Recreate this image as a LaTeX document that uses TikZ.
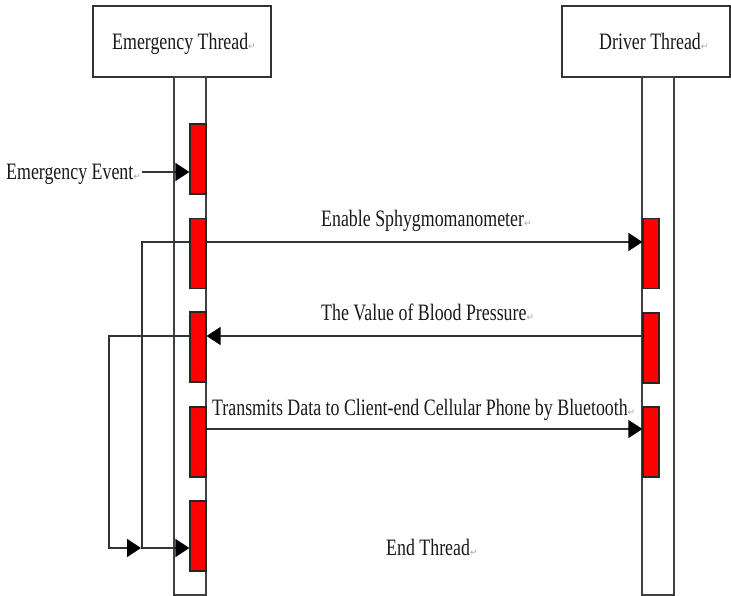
\documentclass[tikz,border=0pt]{standalone}
\usepackage{fontspec}
\setmainfont{Liberation Serif}[FakeStretch=0.76]
\newfontfamily\markfont{DejaVu Sans}
\usetikzlibrary{arrows.meta}

% small grey paragraph mark that trails each label
\newcommand\pmark{{\markfont\color{black!35}\fontsize{9}{9}\selectfont ↵}}

\tikzset{
  threadbox/.style={draw=black!80, line width=1.3pt, fill=white, inner sep=0pt,
    minimum height=71pt},
  lifeline/.style={draw=black!75, line width=1.2pt, fill=white, inner sep=0pt,
    minimum width=32pt, minimum height=518pt},
  actbar/.style={draw=black!85, fill=red, line width=1.2pt, inner sep=0pt,
    minimum width=16pt, minimum height=70pt},
  wire/.style={draw=black!80, line width=1.3pt},
  msg/.style={wire, -{Triangle[length=14pt,width=18pt,color=black]}},
  lbl/.style={inner sep=0pt, text=black!90, font=\fontsize{23.5}{25}\selectfont}
}

\begin{document}
\begin{tikzpicture}[x=1pt, y=-1pt]
  \fill[white] (0,0) rectangle (731,596);
  \useasboundingbox (0,0) rectangle (731,596);

  % thread headers
  \node[threadbox, minimum width=178pt] (emt) at (182,41.5) {};
  \node[threadbox, minimum width=168pt] (drt) at (646,41.5) {};
  \node[lbl, anchor=base west] (emtl) at (112,50) {Emergency Thread\pmark};
  \node[lbl, anchor=base west] (drtl) at (599,50) {Driver Thread\pmark};

  % lifelines
  \node[lifeline] (eline) at (190,336) {};
  \node[lifeline] (dline) at (658,336) {};

  % message rows
  \coordinate (yev) at (0,172);
  \coordinate (yen) at (0,242);
  \coordinate (ybp) at (0,336);
  \coordinate (ytx) at (0,429);
  \coordinate (yend) at (0,548);
  \coordinate (innerx) at (142,0);
  \coordinate (outerx) at (109,0);
  \coordinate (inb) at (innerx |- yend);

  % activation bar positions
  \path (198,159) coordinate (pe1) (198,253.5) coordinate (pe2) (198,347) coordinate (pe3)
        (198,442) coordinate (pe4) (198,536) coordinate (pe5)
        (651,253.5) coordinate (pd1) (651,348) coordinate (pd2) (651,442) coordinate (pd3);
  \path node[actbar, draw=none, fill=none] (e1) at (pe1) {}
        node[actbar, draw=none, fill=none] (e2) at (pe2) {}
        node[actbar, draw=none, fill=none] (e3) at (pe3) {}
        node[actbar, draw=none, fill=none] (e4) at (pe4) {}
        node[actbar, draw=none, fill=none] (e5) at (pe5) {}
        node[actbar, draw=none, fill=none] (d1) at (pd1) {}
        node[actbar, draw=none, fill=none] (d2) at (pd2) {}
        node[actbar, draw=none, fill=none] (d3) at (pd3) {};

  % labels
  \node[lbl, anchor=base west] (ev) at (6,180) {Emergency Event\pmark};
  \node[lbl, anchor=base west] (len) at (321,226) {Enable Sphygmomanometer\pmark};
  \node[lbl, anchor=base west] (lbp) at (321,320) {The Value of Blood Pressure\pmark};
  \node[lbl, anchor=base west] (ltx) at (212,415) {Transmits Data to Client-end Cellular Phone by Bluetooth\pmark};
  \node[lbl, anchor=base west] (lend) at (386,555) {End Thread\pmark};

  % messages
  \draw[msg] ([xshift=1pt]ev.east |- yev) -- (e1.west |- yev);
  \draw[msg] (e2.east |- yen) -- (d1.west |- yen);
  \draw[msg] (d2.west |- ybp) -- (e3.east |- ybp);
  \draw[msg] (e4.east |- ytx) -- (d3.west |- ytx);

  % return paths into the end-thread bar
  \draw[msg] (e2.west |- yen) -- (innerx |- yen) -- (inb) -- (e5.west |- yend);
  \draw[msg] (e3.west |- ybp) -- (outerx |- ybp) |- ([xshift=-1pt]inb);

  % activation bars on top
  \foreach \b in {pe1,pe2,pe3,pe4,pe5,pd1,pd2,pd3}
    \node[actbar] at (\b) {};
\end{tikzpicture}
\end{document}
